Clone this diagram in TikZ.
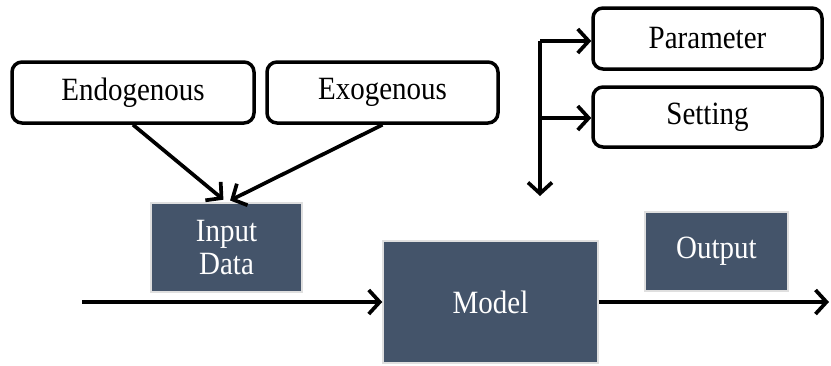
\documentclass[tikz,border=0pt]{standalone}
\usepackage{graphicx}
\usepackage{fontspec}
\setmainfont{Liberation Serif}
\usetikzlibrary{arrows.meta}
\definecolor{slate}{HTML}{44546A}
% slightly tall lettering
\newcommand{\tallt}[1]{\scalebox{1}[1.12]{#1}}
\begin{document}
\begin{tikzpicture}[x=1pt,y=-1pt,
  roundbox/.style={draw=black,line width=3.5pt,rounded corners=10pt,fill=white,
    inner sep=0pt,font=\fontsize{29}{30}\selectfont},
  darkbox/.style={fill=slate,draw=gray!25,line width=1.5pt,inner sep=0pt,
    text=white,align=center,font=\fontsize{29}{33}\selectfont},
  flow/.style={line width=3.7pt,-{Straight Barb[length=11pt,width=24pt,line width=3.7pt]}}]
\useasboundingbox (0,0) rectangle (831,365);
% source boxes
\node[roundbox,minimum width=242pt,minimum height=61pt] (endo) at (133,92.5) {\tallt{Endogenous}};
\node[roundbox,minimum width=231pt,minimum height=61pt] (exo) at (382.5,92.5) {\tallt{Exogenous}};
\node[roundbox,minimum width=229pt,minimum height=61pt] (param) at (707.5,38.5) {\tallt{Parameter}};
\node[roundbox,minimum width=229pt,minimum height=60pt] (set) at (707.5,117) {\tallt{Setting}};
% processing blocks
\node[darkbox,minimum width=151pt,minimum height=89pt] (input) at (226.5,247.5) {\tallt{Input}\\\tallt{Data}};
\node[darkbox,minimum width=215pt,minimum height=122pt] (model) at (490.5,302) {\tallt{Model}};
\node[darkbox,minimum width=143pt,minimum height=79pt] (output) at (716.5,251.5) {\tallt{Output}};
% connectors
\draw[flow,shorten >=4pt] (endo.south) -- (input.north);
\draw[flow,shorten >=4pt] (exo.south) -- (input.north);
\coordinate (left) at (82,302);
\coordinate (right) at (829,302);
\draw[flow] (left) -- (model.west);
\draw[flow] (model.east) -- (right);
\coordinate (split) at (540,41);
\coordinate (branch) at (540,118);
\coordinate (down) at (540,196);
\draw[flow] (split) -- (down);
\draw[flow] (split) -- (param.west|-split);
\draw[flow] (branch) -- (set.west|-branch);
\end{tikzpicture}
\end{document}
